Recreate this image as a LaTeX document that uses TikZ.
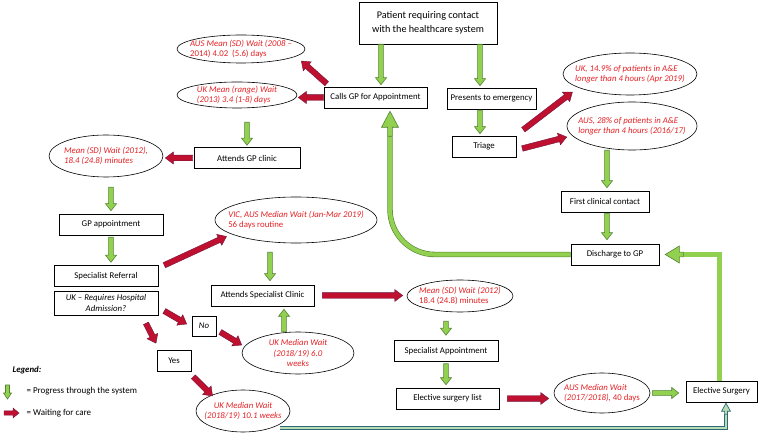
\documentclass[tikz,border=0pt]{standalone}
\usepackage{fontspec}
\setmainfont{Carlito}
\usetikzlibrary{calc,shapes.geometric}
\definecolor{gfill}{RGB}{146,208,80}
\definecolor{gline}{RGB}{84,130,53}
\definecolor{rfill}{RGB}{192,16,48}
\definecolor{rline}{RGB}{110,20,60}
\definecolor{tline}{RGB}{45,105,118}
\definecolor{tfill}{RGB}{185,220,180}
\definecolor{wtext}{RGB}{228,32,36}
\tikzset{
  blockarrow/.style={to path={let \p1=($(\tikztotarget)!\blkhead!(\tikztostart)$) in
    ($(\tikztostart)!\blkshaft!90:(\tikztotarget)$) -- ($(\p1)!\blkshaft!-90:(\tikztostart)$)
    -- ($(\p1)!\blkwing!-90:(\tikztostart)$) -- (\tikztotarget)
    -- ($(\p1)!\blkwing!90:(\tikztostart)$) -- ($(\p1)!\blkshaft!90:(\tikztostart)$)
    -- ($(\tikztostart)!\blkshaft!-90:(\tikztotarget)$) -- cycle}},
  arrowsize/.code args={#1/#2/#3}{\def\blkshaft{#1}\def\blkwing{#2}\def\blkhead{#3}},
}

\begin{document}
\begin{tikzpicture}[x=1pt, y=-1pt,
    box/.style={draw, line width=0.6pt, minimum height=21pt, inner sep=1pt, font=\fontsize{8.8}{10.5}\selectfont},
    oval/.style={draw, ellipse, line width=0.6pt, inner xsep=-25pt, inner ysep=-6pt, text=wtext, font=\fontsize{8.8}{10.5}\selectfont\itshape},
    gblock/.style={blockarrow, arrowsize=2.4pt/5.5pt/7pt, draw=gline, fill=gfill, line width=0.6pt},
    rblock/.style={blockarrow, arrowsize=2.8pt/6pt/8pt, draw=rline, fill=rfill, line width=0.4pt},
    tblock/.style={blockarrow, arrowsize=1.4pt/4.5pt/8pt, draw=tline, fill=tfill, line width=0.7pt},
    gshaft/.style={draw=gline, line width=0.6pt, double=gfill, double distance=4.2pt},
    tshaft/.style={draw=tline, line width=0.7pt, double=tfill, double distance=2.1pt}]
    \useasboundingbox (0,0) rectangle (760,435);
    \node[box, minimum width=138, minimum height=42, align=center, font=\fontsize{10.2}{14}\selectfont] (patient) at (428,23) {Patient requiring contact\\with the healthcare system};
    \foreach \nm/\x/\y/\w/\txt in {callgp/375.5/97.5/103/Calls GP for Appointment, presents/491.5/98.5/89/Presents to emergency,
        triage/484/146.5/64/Triage, firstcc/605/201.5/88/First clinical contact, discharge/615/254.5/88/Discharge to GP,
        attendsgp/247/158/106/Attends GP clinic, gpappt/111/224.5/104/GP appointment, specref/106/276/104/Specialist Referral,
        attendsspec/262.5/295.5/103/Attends Specialist Clinic, specappt/446/351/104/Specialist Appointment,
        elist/447.5/398.5/103/Elective surgery list, elective/721.5/391.5/71/Elective Surgery, yesbox/174/361/34/Yes}
        \node[box, minimum width=\w] (\nm) at (\x,\y) {\txt};
    \node[box, minimum width=104, minimum height=24, align=center, font=\fontsize{8.8}{10.5}\selectfont\itshape] (requires) at (106,303) {UK -- Requires Hospital\\Admission?};
    \node[box, minimum width=24, minimum height=20, font=\fontsize{8.8}{10.5}\selectfont\itshape] (nobox) at (204,326) {No};
    \node[oval, minimum width=128, minimum height=28, align=left] (ausmean) at (241,49) {AUS Mean (SD) Wait (2008 --\\{\upshape 2014) 4.02\ \ (5.6) days}};
    \node[oval, minimum width=120, minimum height=26, align=left] (ukmean) at (237,95) {UK Mean (range) Wait\\(2013) 3.4 (1-8) days};
    \node[oval, minimum width=114, minimum height=42, align=left] (meangp) at (106,156) {Mean (SD) Wait (2012),\\18.4 (24.8) minutes};
    \node[oval, minimum width=162, minimum height=46, align=left] (vic) at (296,220) {VIC, AUS Median Wait (Jan-Mar 2019)\\{\upshape 56 days routine}};
    \node[oval, minimum width=106, minimum height=32, align=left] (meanspec) at (460,296) {Mean (SD) Wait (2012)\\{\upshape 18.4 (24.8) minutes}};
    \node[oval, minimum width=112, minimum height=42, align=center] (uksix) at (298,353) {UK Median Wait\\(2018/19) 6.0\\weeks};
    \node[oval, minimum width=94, minimum height=42, align=center] (ukten) at (243,411) {UK Median Wait\\(2018/19) 10.1 weeks};
    \node[oval, minimum width=96, minimum height=40, align=left] (ausel) at (602,393) {AUS Median Wait\\(2017/2018), {\upshape 40 days}};
    \node[oval, minimum width=134, minimum height=42, align=left] (uk149) at (630,74) {UK, 14.9\% of patients in A\&E\\longer than 4 hours (Apr 2019)};
    \node[oval, minimum width=130, minimum height=48, align=left] (aus28) at (632,126) {AUS, 28\% of patients in A\&E\\longer than 4 hours (2016/17)};
    \draw[gblock] ([xshift=5.5pt]patient.south -| callgp.north) to ([xshift=5.5pt,yshift=2pt]callgp.north);
    \draw[gblock] ([xshift=-11.5pt]patient.south -| presents.north) to ([xshift=-11.5pt,yshift=2pt]presents.north);
    \draw[gblock] ([xshift=-4pt,yshift=-1pt]presents.south -| triage.north) to ([xshift=-4pt,yshift=2pt]triage.north);
    \draw[gblock] ([xshift=2pt]aus28.south -| firstcc.north) to ([xshift=2pt,yshift=3pt]firstcc.north);
    \draw[gblock] ([xshift=2pt,yshift=-1pt]firstcc.south) to ([xshift=2pt,yshift=4pt]firstcc.south |- discharge.north);
    \draw[gblock] ([yshift=-14pt]ukmean.south -| attendsgp.north) to ([yshift=2pt]attendsgp.north);
    \draw[gblock] ([yshift=-10pt]meangp.south -| gpappt.north) to ([yshift=3pt]gpappt.north);
    \draw[gblock] ([yshift=-2pt]gpappt.south) to ([yshift=3pt]gpappt.south |- specref.north);
    \draw[gblock] ([xshift=7.5pt,yshift=-9pt]vic.south -| attendsspec.north) to ([xshift=7.5pt,yshift=4pt]attendsspec.north);
    \draw[gblock] ([xshift=21.5pt]uksix.north -| attendsspec.south) to ([xshift=21.5pt,yshift=-3pt]attendsspec.south);
    \draw[gblock] ([yshift=-9pt]meanspec.south -| specappt.north) to ([yshift=5pt]specappt.north);
    \draw[gblock] ([yshift=-2pt]specappt.south) to ([yshift=3pt]specappt.south |- elist.north);
    \draw[gblock] ([xshift=2pt]ausel.east) to ([xshift=-7pt]elective.west |- ausel.east);
    \draw[rblock] ([xshift=3pt,yshift=3pt]callgp.north west) to ([xshift=-4pt,yshift=-12pt]ausmean.east);
    \draw[rblock] (callgp.west) to ([xshift=1pt]ukmean.east |- callgp.west);
    \draw[rblock] ([xshift=-1pt]attendsgp.west) to ([xshift=2pt]meangp.east |- attendsgp.west);
    \draw[rblock] ([xshift=6pt]specref.north east) to ([xshift=-12pt]vic.south west);
    \draw[rblock] ([xshift=8pt]attendsspec.east) to ([xshift=-4pt]meanspec.west |- attendsspec.east);
    \draw[rblock] ([xshift=6pt,yshift=-8pt]requires.east) to ([xshift=-5pt,yshift=2pt]nobox.west);
    \draw[rblock] ([xshift=4pt,yshift=-6pt]nobox.east) to ([yshift=8pt]uksix.west);
    \draw[rblock] ([xshift=40pt,yshift=-8pt]requires.south) to ([xshift=-18pt,yshift=7pt]yesbox.north);
    \draw[rblock] ([xshift=2pt,yshift=-5pt]yesbox.south east) to ([xshift=3pt]ukten.north west);
    \draw[rblock] ([xshift=7pt,yshift=6pt]triage.north east) to ([xshift=-10pt,yshift=-3pt]uk149.south west);
    \draw[rblock] ([xshift=6pt,yshift=-2pt]triage.east) to ([yshift=-11pt]aus28.west);
    \draw[rblock] ([xshift=8pt]elist.east) to ([xshift=-5pt]ausel.west |- elist.east);
    \coordinate (loopbase) at ([xshift=14.5pt,yshift=-28pt]callgp.south);
    \draw[gshaft, rounded corners=45pt] (discharge.west) -| (loopbase);
    \draw[gblock, arrowsize=2.4pt/8.5pt/16pt] (loopbase) to ([xshift=14.5pt,yshift=-3pt]callgp.south);
    \coordinate (backbase) at ([xshift=24pt]discharge.east);
    \draw[gshaft] ([xshift=-2pt]elective.north) |- (backbase);
    \draw[gblock, arrowsize=2.4pt/8.5pt/14pt] (backbase) to ([xshift=6pt]discharge.east);
    \coordinate (tealbase) at ([xshift=4.5pt,yshift=-12pt]elective.south);
    \draw[tshaft] ([xshift=4pt,yshift=-2pt]ukten.south east) -| (tealbase);
    \draw[tblock] (tealbase) to ([xshift=4.5pt,yshift=-1pt]elective.south);
    \node[anchor=west, font=\fontsize{8.8}{10.5}\selectfont\bfseries\itshape] (legend) at (9,370) {Legend:};
    \node[anchor=west, font=\fontsize{9}{10.5}\selectfont] (keyprog) at (23,391) {= Progress through the system};
    \node[anchor=west, font=\fontsize{9}{10.5}\selectfont] (keywait) at (23,413) {= Waiting for care};
    \coordinate (keyg1) at (7.5,385);
    \coordinate (keyg2) at (7.5,399);
    \draw[gblock, arrowsize=2pt/4pt/6pt] (keyg1) to (keyg2);
    \coordinate (keyr1) at (4,413);
    \coordinate (keyr2) at (19,413);
    \draw[rblock, arrowsize=2.2pt/5pt/6pt] (keyr1) to (keyr2);
\end{tikzpicture}
\end{document}
